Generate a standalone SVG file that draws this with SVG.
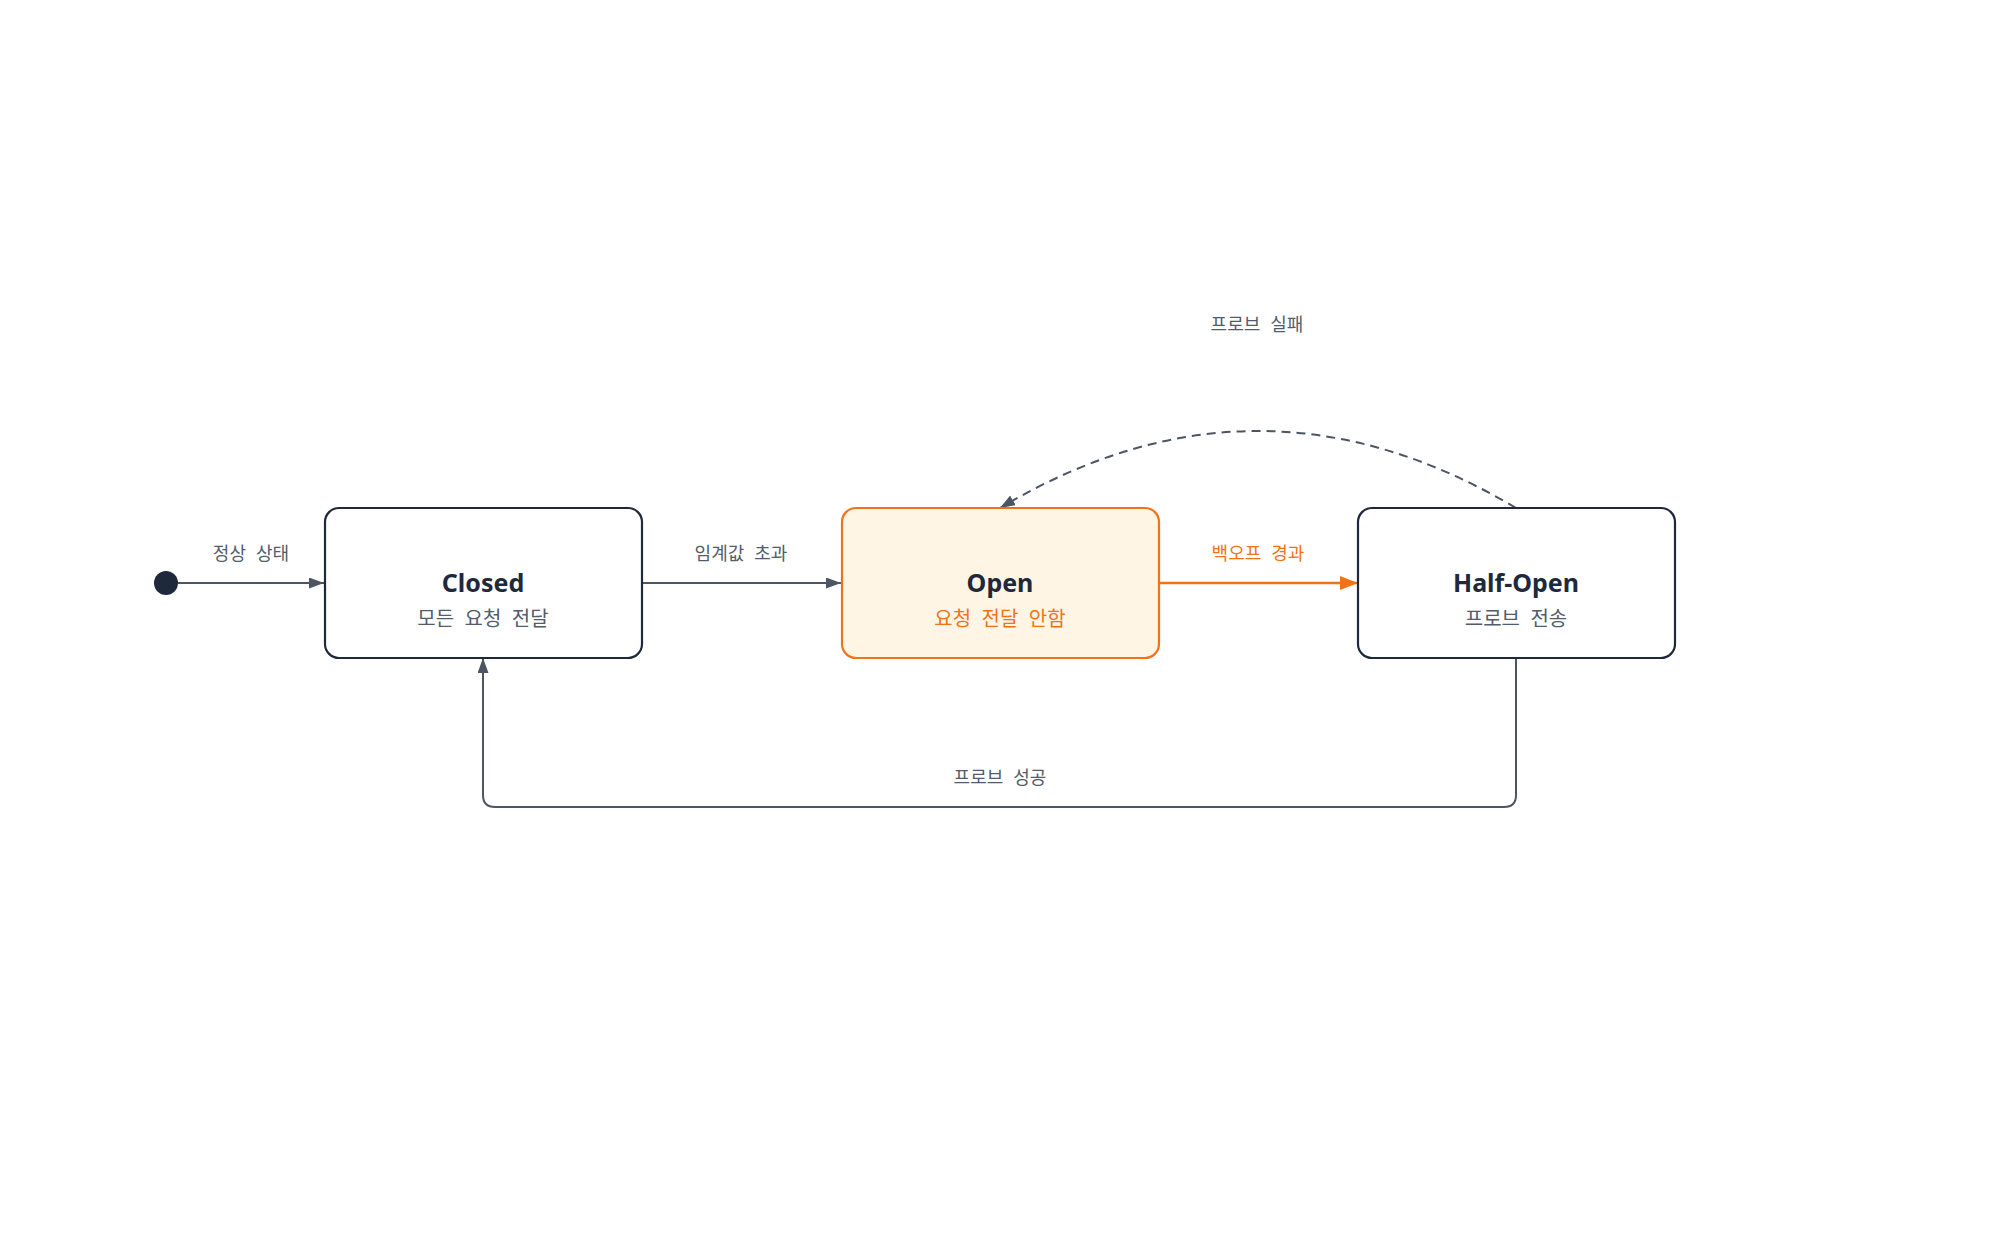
<svg xmlns="http://www.w3.org/2000/svg" width="2000" height="1250" viewBox="0 0 2000 1250">
<style>
.box{fill:#ffffff;stroke:#1e293b;stroke-width:2.2}
.boxo{fill:#fff5e5;stroke:#f07318;stroke-width:2.2}
.title{font-family:"Noto Sans","Noto Sans CJK KR",sans-serif;font-weight:700;font-size:25px;fill:#1e293b;text-anchor:middle}
.sub{font-family:"Noto Sans CJK KR","Noto Sans",sans-serif;font-weight:400;font-size:20px;word-spacing:6px;fill:#525c6a;text-anchor:middle}
.subo{fill:#f07318}
.lbl{font-family:"Noto Sans CJK KR","Noto Sans",sans-serif;font-weight:400;font-size:18px;word-spacing:6px;fill:#525c6a;text-anchor:middle}
.lblo{fill:#f07318}
.edge{fill:none;stroke:#4b5563;stroke-width:2}
.edgeo{fill:none;stroke:#f07318;stroke-width:2.6}
.dash{stroke-dasharray:9 6}
</style>
<defs>
<marker id="ao" viewBox="0 0 10 10" refX="10" refY="5" markerWidth="18" markerHeight="14" markerUnits="userSpaceOnUse" orient="auto" preserveAspectRatio="none">
<path d="M0,0 L10,5 L0,10 Z" fill="#f07318"/>
</marker>
<marker id="ag2" viewBox="0 0 10 10" refX="10" refY="5" markerWidth="15" markerHeight="11" markerUnits="userSpaceOnUse" orient="auto" preserveAspectRatio="none">
<path d="M0,0 L10,5 L0,10 Z" fill="#4b5563"/>
</marker>
</defs>
<rect width="2000" height="1250" fill="#ffffff"/>
<g id="connectors">
<path class="edge" d="M178,583 L324,583" marker-end="url(#ag2)"/>
<path class="edge" d="M642,583 L841,583" marker-end="url(#ag2)"/>
<path class="edgeo" d="M1159,583 L1358,583" marker-end="url(#ao)"/>
<path class="edge dash" d="M1516,508 Q1258,354 1000,508" marker-end="url(#ag2)"/>
<path class="edge" d="M1516,658 L1516,795 Q1516,807 1504,807 L495,807 Q483,807 483,795 L483,658" marker-end="url(#ag2)"/>
<text class="lbl" x="251" y="560">정상 상태</text>
<text class="lbl" x="741" y="560">임계값 초과</text>
<text class="lbl lblo" x="1258" y="560">백오프 경과</text>
<text class="lbl" x="1257" y="331">프로브 실패</text>
<text class="lbl" x="1000" y="784">프로브 성공</text>
</g>
<g id="start">
<circle cx="166" cy="583" r="12" fill="#1e293b"/>
</g>
<g id="closed">
<rect class="box" x="325" y="508" width="317" height="150" rx="14"/>
<text class="title" x="483" y="592">Closed</text>
<text class="sub" x="483" y="626">모든 요청 전달</text>
</g>
<g id="open">
<rect class="boxo" x="842" y="508" width="317" height="150" rx="14"/>
<text class="title" x="1000" y="592">Open</text>
<text class="sub subo" x="1000" y="626">요청 전달 안함</text>
</g>
<g id="halfopen">
<rect class="box" x="1358" y="508" width="317" height="150" rx="14"/>
<text class="title" x="1516" y="592">Half-Open</text>
<text class="sub" x="1516" y="626">프로브 전송</text>
</g>
</svg>
